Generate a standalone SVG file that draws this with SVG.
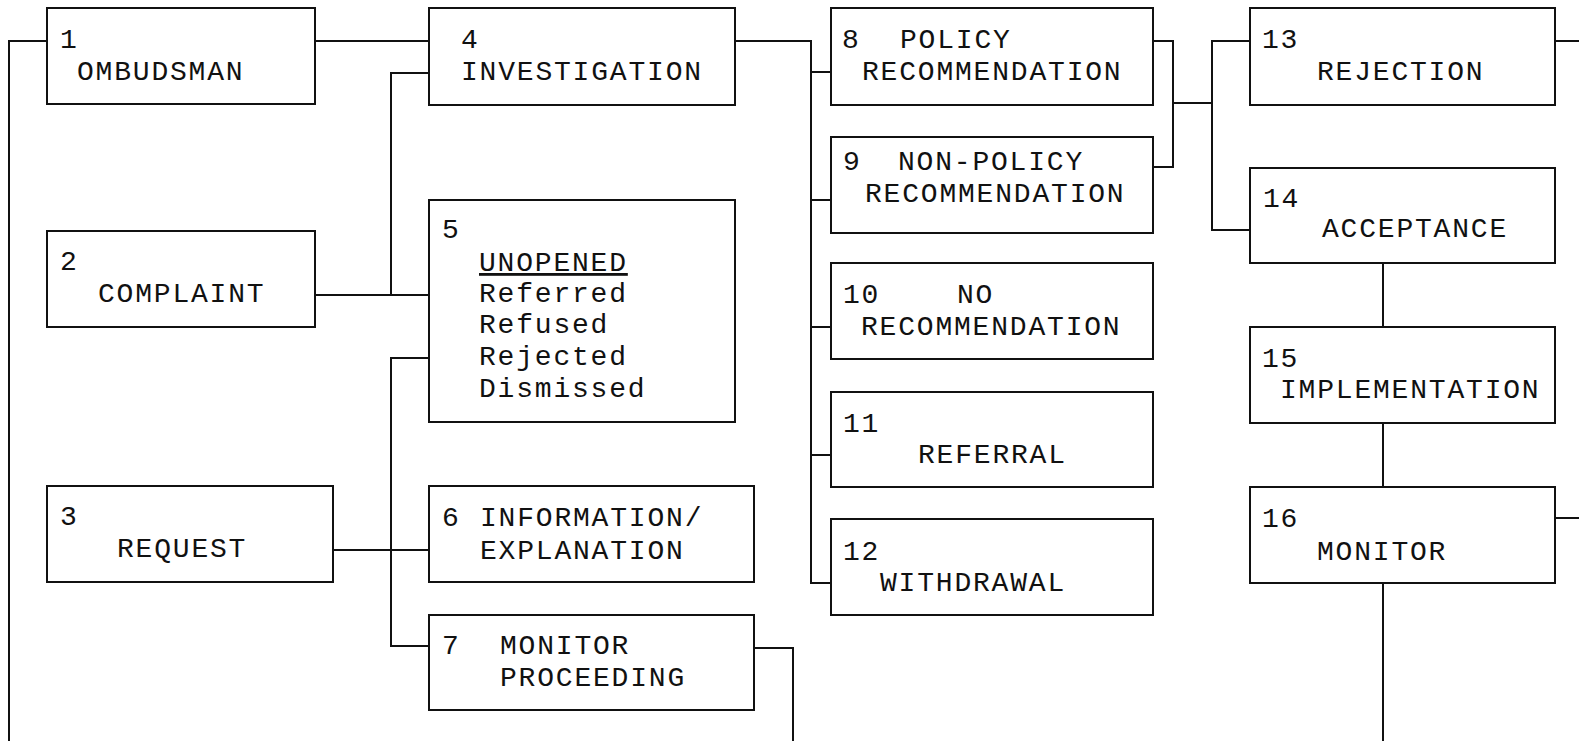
<svg xmlns="http://www.w3.org/2000/svg" width="1579" height="741" viewBox="0 0 1579 741">
<style>
.box{fill:#fff;stroke:#111;stroke-width:2}
.ln{fill:none;stroke:#111;stroke-width:2}
text{font-family:"Liberation Mono","DejaVu Sans Mono",monospace;font-size:28px;letter-spacing:1.8px;fill:#111}
</style>
<rect width="1579" height="741" fill="#fff"/>
<g id="connectors" class="ln">
<path d="M47,41 H9 V741"/>
<path d="M315,41 H429"/>
<path d="M429,73 H391 V295 M315,295 H429"/>
<path d="M429,358 H391 V646 H429 M333,550 H429"/>
<path d="M735,41 H811 V583 H831 M811,72 H831 M811,200 H831 M811,327 H831 M811,455 H831"/>
<path d="M1153,41 H1173 V167 H1153 M1173,103 H1212"/>
<path d="M1250,41 H1212 V230 H1250"/>
<path d="M1555,41 H1579"/>
<path d="M1383,263 V327 M1383,423 V487 M1383,583 V741"/>
<path d="M1555,518 H1579"/>
<path d="M754,648 H793 V741"/>
</g>
<g id="n1"><rect class="box" x="47" y="8" width="268" height="96"/><text x="60" y="48">1</text><text x="77" y="80">OMBUDSMAN</text></g>
<g id="n2"><rect class="box" x="47" y="231" width="268" height="96"/><text x="60" y="270">2</text><text x="98" y="302">COMPLAINT</text></g>
<g id="n3"><rect class="box" x="47" y="486" width="286" height="96"/><text x="60" y="525">3</text><text x="117" y="557">REQUEST</text></g>
<g id="n4"><rect class="box" x="429" y="8" width="306" height="97"/><text x="461" y="48">4</text><text x="461" y="80">INVESTIGATION</text></g>
<g id="n5"><rect class="box" x="429" y="200" width="306" height="222"/><text x="442" y="238">5</text><text x="479" y="271" text-decoration="underline">UNOPENED</text><text x="479" y="302">Referred</text><text x="479" y="333">Refused</text><text x="479" y="365">Rejected</text><text x="479" y="397">Dismissed</text></g>
<g id="n6"><rect class="box" x="429" y="486" width="325" height="96"/><text x="442" y="526">6</text><text x="480" y="526">INFORMATION/</text><text x="480" y="559">EXPLANATION</text></g>
<g id="n7"><rect class="box" x="429" y="615" width="325" height="95"/><text x="442" y="654">7</text><text x="500" y="654">MONITOR</text><text x="500" y="686">PROCEEDING</text></g>
<g id="n8"><rect class="box" x="831" y="8" width="322" height="97"/><text x="842" y="48">8</text><text x="900" y="48">POLICY</text><text x="862" y="80">RECOMMENDATION</text></g>
<g id="n9"><rect class="box" x="831" y="137" width="322" height="96"/><text x="843" y="170">9</text><text x="898" y="170">NON-POLICY</text><text x="865" y="202">RECOMMENDATION</text></g>
<g id="n10"><rect class="box" x="831" y="263" width="322" height="96"/><text x="843" y="303">10</text><text x="957" y="303">NO</text><text x="861" y="335">RECOMMENDATION</text></g>
<g id="n11"><rect class="box" x="831" y="392" width="322" height="95"/><text x="843" y="432">11</text><text x="918" y="463">REFERRAL</text></g>
<g id="n12"><rect class="box" x="831" y="519" width="322" height="96"/><text x="843" y="560">12</text><text x="880" y="591">WITHDRAWAL</text></g>
<g id="n13"><rect class="box" x="1250" y="8" width="305" height="97"/><text x="1262" y="48">13</text><text x="1317" y="80">REJECTION</text></g>
<g id="n14"><rect class="box" x="1250" y="168" width="305" height="95"/><text x="1263" y="207">14</text><text x="1322" y="237">ACCEPTANCE</text></g>
<g id="n15"><rect class="box" x="1250" y="327" width="305" height="96"/><text x="1262" y="367">15</text><text x="1280" y="398">IMPLEMENTATION</text></g>
<g id="n16"><rect class="box" x="1250" y="487" width="305" height="96"/><text x="1262" y="527">16</text><text x="1317" y="560">MONITOR</text></g>
</svg>
